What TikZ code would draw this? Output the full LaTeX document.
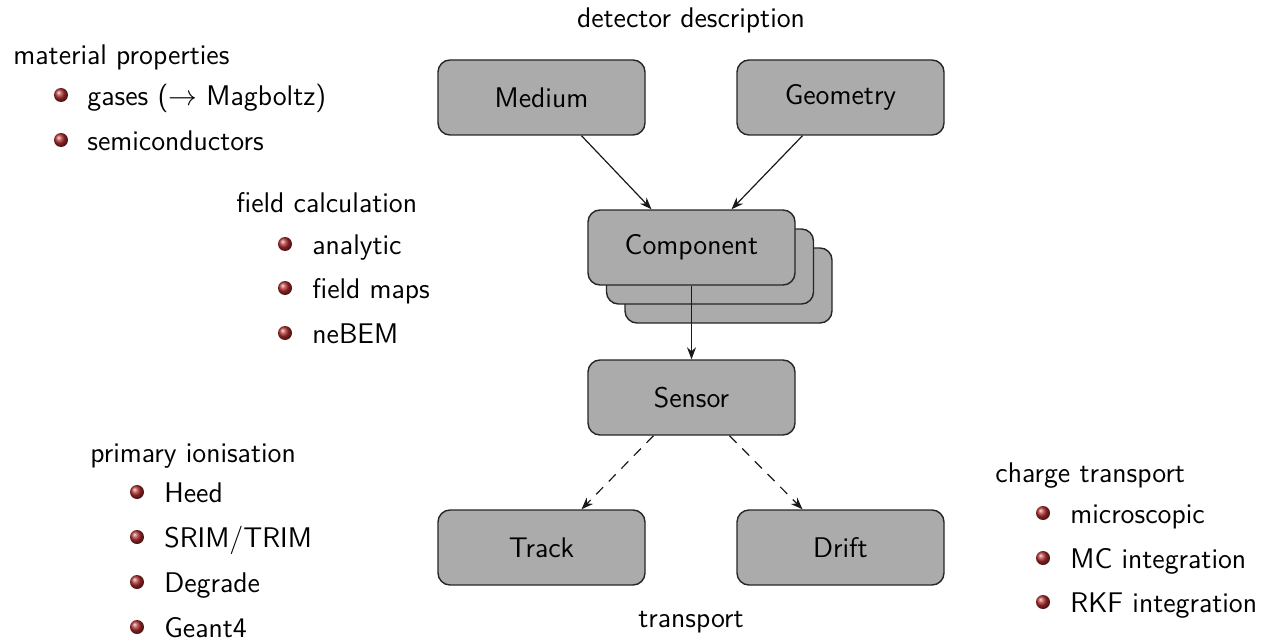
\documentclass[tikz,border=0pt]{standalone}
\usetikzlibrary{arrows.meta,shadings}
\begin{document}
\begin{tikzpicture}[x=0.5pt,y=-0.5pt,
  font=\fontsize{14.2}{16}\selectfont\sffamily,
  box/.style={draw=black!85,line width=0.7pt,fill=black!33,rounded corners=6pt,
    minimum width=103.5pt,minimum height=37.5pt,inner sep=0pt},
  lbl/.style={anchor=base west,inner sep=0pt},
  ctr/.style={anchor=base,inner sep=0pt},
  bul/.style={circle,inner sep=0pt,minimum size=7pt,shading=ball,ball color={rgb,255:red,175;green,45;blue,45}},
  arr/.style={-{Stealth[length=6pt,width=4.5pt]},line width=0.6pt,black!90},
  darr/.style={arr,dash pattern=on 5pt off 4pt}]
\useasboundingbox (0,0) rectangle (1263,642);

% boxes
\node[box] (medium) at (541.5,97.5) {Medium};
\node[box] (geometry) at (840.5,97.5) {Geometry};
\node[box] (comp3) at (728.5,285.5) {};
\node[box] (comp2) at (710,266.5) {};
\node[box] (comp) at (691.5,247.5) {Component};
\node[box] (sensor) at (691.5,397.5) {Sensor};
\node[box] (track) at (541.5,547.5) {Track};
\node[box] (drift) at (840.5,547.5) {Drift};

% connectors
\draw[arr] ([xshift=20pt]medium.south) -- ([xshift=-20pt]comp.north);
\draw[arr] ([xshift=-19pt]geometry.south) -- ([xshift=20pt]comp.north);
\draw[arr] (comp.south) -- (sensor.north);
\draw[darr] ([xshift=-19pt]sensor.south) -- ([xshift=20pt]track.north);
\draw[darr] ([xshift=19pt]sensor.south) -- ([xshift=-19pt]drift.north);

% captions
\node[ctr] (dd) at (691,28) {detector description};
\node[ctr] (tr) at (691,627) {transport};

% material properties
\node[lbl] (mp) at (13,65) {material properties};
\node[bul] (mpb1) at (61,95) {};
\node[lbl] (mp1) at (87,105) {gases ($\rightarrow$ Magboltz)};
\node[bul] (mpb2) at (61,140) {};
\node[lbl] (mp2) at (87,150) {semiconductors};

% field calculation
\node[lbl] (fc) at (236,212) {field calculation};
\node[bul] (fcb1) at (285,244) {};
\node[lbl] (fc1) at (312,254) {analytic};
\node[bul] (fcb2) at (285,288) {};
\node[lbl] (fc2) at (312,298) {field maps};
\node[bul] (fcb3) at (285,333) {};
\node[lbl] (fc3) at (312,343) {neBEM};

% primary ionisation
\node[lbl] (pi) at (90,462) {primary ionisation};
\node[bul] (pib1) at (137,492) {};
\node[lbl] (pi1) at (164,502) {Heed};
\node[bul] (pib2) at (137,537) {};
\node[lbl] (pi2) at (164,547) {SRIM/TRIM};
\node[bul] (pib3) at (137,582) {};
\node[lbl] (pi3) at (164,592) {Degrade};
\node[bul] (pib4) at (137,627) {};
\node[lbl] (pi4) at (164,637) {Geant4};

% charge transport
\node[lbl] (ct) at (995,482) {charge transport};
\node[bul] (ctb1) at (1043,513) {};
\node[lbl] (ct1) at (1070,523) {microscopic};
\node[bul] (ctb2) at (1043,558) {};
\node[lbl] (ct2) at (1070,568) {MC integration};
\node[bul] (ctb3) at (1043,602) {};
\node[lbl] (ct3) at (1070,612) {RKF integration};
\end{tikzpicture}
\end{document}
